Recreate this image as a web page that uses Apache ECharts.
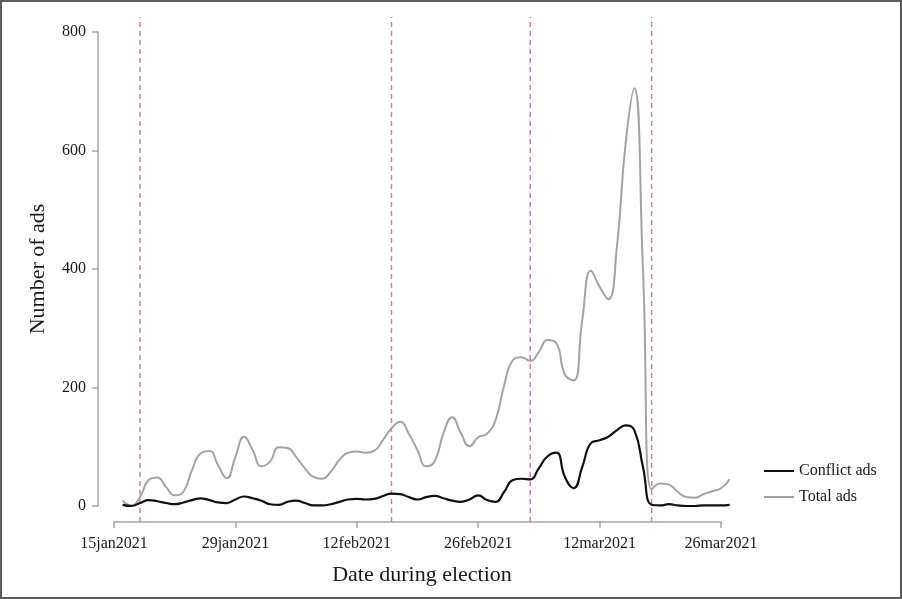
<!DOCTYPE html>
<html>
<head>
<meta charset="utf-8">
<script src="https://cdn.jsdelivr.net/npm/echarts@6/dist/echarts.min.js"></script>
<style>
html,body{margin:0;padding:0;background:#fff;}
#chart{position:absolute;left:0;top:0;width:902px;height:599px;}
#frame{position:absolute;left:0;top:0;width:902px;height:599px;box-sizing:border-box;border:2px solid #5c5c5c;pointer-events:none;}
</style>
</head>
<body>
<div id="chart"></div>
<div id="frame"></div>
<script>
// Days counted from 15jan2021 (day 0); series start on 16jan2021 (day 1)
const firstDay = 1;
const conflictAds = [2,0,5,10,8,5,3,6,10,13, 10,6,5,11,16,13,9,3,2,7, 9,5,1,1,3,7,11,12,11,12,
  17,21,20,15,11,15,17,13,9,7, 11,18,10,7,24,44,46,45,64,84, 90,49,30,66,106,111,117,128,136,128,
  66,2,1,3,1,0,0,1,1,1,2];
const totalAds = [9,1,15,44,48,32,18,24,61,89, 93,69,47,83,117,94,67,75,99,98, 83,64,49,46,58,78,90,92,90,93,
  111,131,142,122,94,67,76,123,150,123, 101,116,122,145,204,246,251,245,260,280, 275,222,212,314,397,370,349,438,612,705,
  400,28,38,36,24,15,14,20,25,30,45];
const xTickLabels = ['15jan2021','29jan2021','12feb2021','26feb2021','12mar2021','26mar2021'];
const xTickStep = 14;
const eventDays = [3, 32, 48, 62];
const yTicks = [0, 200, 400, 600, 800];

const font = 'Liberation Serif';
const lastDay = firstDay + totalAds.length - 1;      // 71
const axisMaxDay = xTickStep * (xTickLabels.length - 1); // 70
const plotLeft = 114, axisWidth = 607;
const pxPerDay = axisWidth / axisMaxDay;
const toPts = arr => arr.map((v, i) => [firstDay + i, v]);
const eventPts = [];
eventDays.forEach(d => { eventPts.push([d, 0], [d, 1], [d, null]); });

const chart = echarts.init(document.getElementById('chart'));
chart.setOption({
  animation: false,
  backgroundColor: '#fff',
  grid: [
    // data grid (extends one day past the last tick so the final day is drawn)
    {left: plotLeft, width: pxPerDay * lastDay, top: 32, bottom: 93},
    // frame grid: x axis and event lines
    {left: plotLeft, width: axisWidth, top: 17, bottom: 77}
  ],
  xAxis: [
    {type: 'value', gridIndex: 0, min: 0, max: lastDay, show: false},
    {
      type: 'value', gridIndex: 1, min: 0, max: axisMaxDay, interval: xTickStep,
      position: 'bottom',
      axisLine: {show: true, onZero: false, lineStyle: {color: '#a6a6a6', width: 1.5}},
      axisTick: {show: true, length: 6, lineStyle: {color: '#a6a6a6', width: 1.5}},
      splitLine: {show: false},
      axisLabel: {
        margin: 14, color: '#1a1a1a', fontFamily: font, fontSize: 16,
        formatter: v => xTickLabels[Math.round(v / xTickStep)] || ''
      },
      name: 'Date during election', nameLocation: 'middle', nameGap: 42, nameMoveOverlap: false,
      nameTextStyle: {fontFamily: font, fontSize: 22, color: '#1a1a1a', padding: [0, 0, 0, 9]}
    }
  ],
  yAxis: [
    {
      type: 'value', gridIndex: 0, min: yTicks[0], max: yTicks[yTicks.length - 1], interval: 200,
      offset: 16,
      axisLine: {show: true, onZero: false, lineStyle: {color: '#a6a6a6', width: 1.5}},
      axisTick: {show: true, length: 6, lineStyle: {color: '#a6a6a6', width: 1.5}},
      splitLine: {show: false},
      axisLabel: {margin: 12, color: '#1a1a1a', fontFamily: font, fontSize: 16},
      name: 'Number of ads', nameLocation: 'middle', nameGap: 49, nameRotate: 90, nameMoveOverlap: false,
      nameTextStyle: {fontFamily: font, fontSize: 22, color: '#1a1a1a'}
    },
    {type: 'value', gridIndex: 1, min: 0, max: 1, show: false}
  ],
  legend: {
    orient: 'vertical', left: 759, top: 457,
    icon: 'rect', itemWidth: 30, itemHeight: 2, itemGap: 8,
    data: ['Conflict ads', 'Total ads'],
    textStyle: {fontFamily: font, fontSize: 16, color: '#1a1a1a', lineHeight: 18}
  },
  series: [
    {
      type: 'line', xAxisIndex: 1, yAxisIndex: 1, data: eventPts,
      symbol: 'none', connectNulls: false, silent: true, z: 1,
      lineStyle: {color: '#d27bb2', width: 1.5, type: [5, 4]}
    },
    {
      name: 'Total ads', type: 'line', xAxisIndex: 0, yAxisIndex: 0,
      data: toPts(totalAds), smooth: 0.5,
      symbol: 'none', clip: false, z: 2,
      itemStyle: {color: '#a3a3a3'},
      lineStyle: {color: '#a3a3a3', width: 2}
    },
    {
      name: 'Conflict ads', type: 'line', xAxisIndex: 0, yAxisIndex: 0,
      data: toPts(conflictAds), smooth: 0.5,
      symbol: 'none', clip: false, z: 3,
      itemStyle: {color: '#111'},
      lineStyle: {color: '#111', width: 2.2}
    }
  ]
});
</script>
</body>
</html>
